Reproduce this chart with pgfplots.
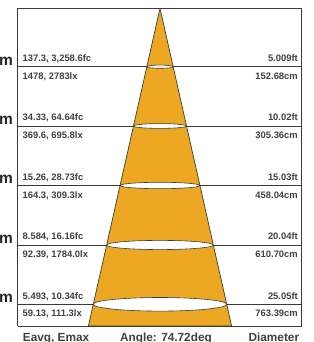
\documentclass[border=0pt]{standalone}
\usepackage{pgfplots}
\pgfplotsset{compat=1.18}
\usepackage{fontspec}
\setmainfont{Liberation Sans}
\definecolor{cone}{HTML}{ECA822}
\definecolor{ink}{HTML}{3A3A3A}
\definecolor{txt}{HTML}{404040}
\newcommand\smallf{\bfseries\fontsize{9.4}{10}\selectfont}
\newcommand\row[6]{%
  \node[anchor=base west, inner sep=0pt, font=\smallf, text=txt] at (axis cs:22.5,#1+5) {#3};
  \node[anchor=base west, inner sep=0pt, font=\smallf, text=txt] at (axis cs:22.5,#1-12.7) {#4};
  \node[anchor=base east, inner sep=0pt, font=\smallf, text=txt] at (axis cs:298,#1+5) {#5};
  \node[anchor=base east, inner sep=0pt, font=\smallf, text=txt] at (axis cs:298,#1-12.7) {#6};
  \node[anchor=base east, inner sep=0pt, font=\bfseries\fontsize{15.5}{16}\selectfont, text=black!85] at (axis cs:13,#1+1.5) {#2m};
}
\begin{document}
\begin{tikzpicture}
\begin{axis}[
  x=1pt, y=1pt, xmin=0, xmax=313, ymin=0, ymax=342,
  hide axis, clip=false, scale only axis,
]
\coordinate (BL) at (axis cs:0,0);
\coordinate (TR) at (axis cs:313,342);
% frame
\addplot[ink, line width=0.9pt] coordinates {(17.7,16) (301.7,16) (301.7,333.7) (17.7,333.7) (17.7,16)};
% distance lines
\addplot[ink, line width=0.7pt] coordinates {(17.7,275.3) (301.7,275.3)};
\addplot[ink, line width=0.7pt] coordinates {(17.7,216) (301.7,216)};
\addplot[ink, line width=0.7pt] coordinates {(17.7,156.5) (301.7,156.5)};
\addplot[ink, line width=0.7pt] coordinates {(17.7,97) (301.7,97)};
\addplot[ink, line width=0.7pt] coordinates {(17.7,37.7) (301.7,37.7)};
% cone
\addplot[draw=ink, fill=cone, line width=0.7pt] coordinates {(160,333.7) (231.6,16) (88.4,16) (160,333.7)};
\addplot[ink, line width=0.9pt] coordinates {(88.4,16) (231.6,16)};
% ellipses
\draw[ink, fill=white, line width=0.6pt] (axis cs:160,275.3) ellipse [x radius=13.1pt, y radius=1.6pt];
\draw[ink, fill=white, line width=0.6pt] (axis cs:160,216) ellipse [x radius=26.5pt, y radius=2.4pt];
\draw[ink, fill=white, line width=0.6pt] (axis cs:160,156.5) ellipse [x radius=39.9pt, y radius=3.2pt];
\draw[ink, fill=white, line width=0.6pt] (axis cs:160,97) ellipse [x radius=53.3pt, y radius=4.6pt];
\draw[ink, fill=white, line width=0.6pt] (axis cs:160,37.7) ellipse [x radius=66.8pt, y radius=6.8pt];
% labels
\row{275.3}{1}{137.3, 3,258.6fc}{1478, 2783lx}{5.009ft}{152.68cm}
\row{216}{2}{34.33, 64.64fc}{369.6, 695.8lx}{10.02ft}{305.36cm}
\row{156.5}{3}{15.26, 28.73fc}{164.3, 309.3lx}{15.03ft}{458.04cm}
\row{97}{4}{8.584, 16.16fc}{92.39, 1784.0lx}{20.04ft}{610.70cm}
\row{37.7}{5}{5.493, 10.34fc}{59.13, 111.3lx}{25.05ft}{763.39cm}
% bottom labels
\node[anchor=base west, inner sep=0pt, font=\bfseries\fontsize{11.8}{12}\selectfont, text=txt] at (axis cs:22.7,0.5) {Eavg, Emax};
\node[anchor=base, inner sep=0pt, font=\bfseries\fontsize{11.8}{12}\selectfont, text=txt] at (axis cs:166,0.5) {Angle: 74.72deg};
\node[anchor=base east, inner sep=0pt, font=\bfseries\fontsize{11.8}{12}\selectfont, text=txt] at (axis cs:299.3,0.5) {Diameter};
\end{axis}
\pgfresetboundingbox
\useasboundingbox (BL) rectangle (TR);
\end{tikzpicture}
\end{document}
